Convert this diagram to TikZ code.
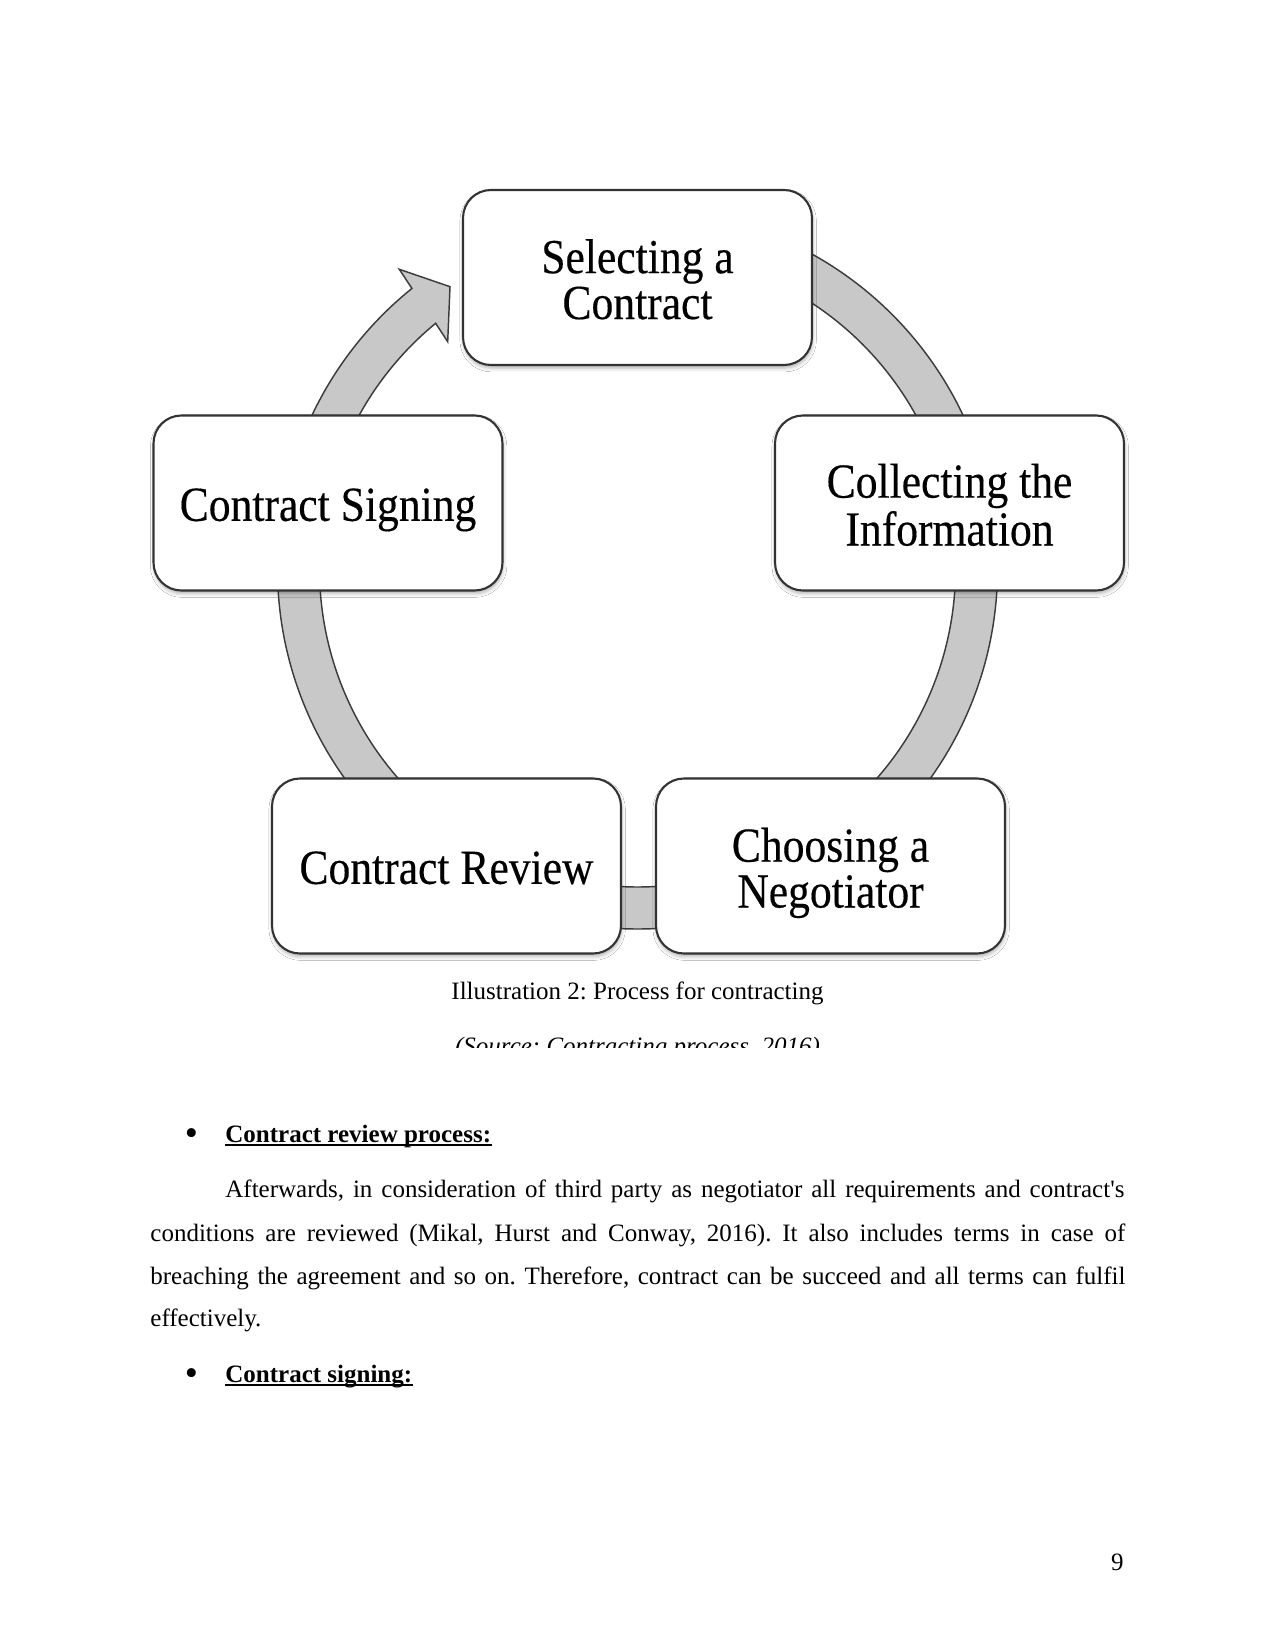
\documentclass[tikz,border=0pt]{standalone}
\usepackage{fontspec}
\setmainfont{Liberation Serif}
\newfontfamily\boxfont[FakeStretch=0.89,FakeBold=0.3]{Liberation Serif}
\usetikzlibrary{calc,shadows.blur}
\definecolor{ringfill}{HTML}{C8C8C8}
\definecolor{ringline}{HTML}{3C3C3C}
\definecolor{boxline}{HTML}{333333}
\newcommand\sq{\XeTeXglyph\XeTeXcharglyph"27\relax}
\newcommand\boxtext[1]{\raisebox{-4pt}[\height][\depth]{\begin{tabular}{@{}c@{}}#1\end{tabular}}}
\frenchspacing
\begin{document}
\begin{tikzpicture}[x=0.48pt,y=-0.48pt,
  stepbox/.style={draw=boxline, line width=1pt, fill=white, rounded corners=13.4pt,
    minimum width=167.5pt, minimum height=84pt, inner sep=0pt,
    font=\boxfont\fontsize{23.5}{21.5}\selectfont,
    blur shadow={shadow xshift=0.3pt, shadow yshift=-1.5pt, shadow blur radius=1.8pt, shadow opacity=30}},
  ring/.style={fill=ringfill, draw=ringline, line width=0.7pt},
  body/.style={font=\fontsize{12}{14}\selectfont, inner sep=0pt},
  bodyit/.style={font=\fontsize{12}{14}\selectfont\itshape, inner sep=0pt},
  bul/.style={font=\fontsize{18}{18}\selectfont, inner sep=0pt},
  uline/.style={line width=0.6pt}]
\fill[white] (0,0) rectangle (1275,1650);
\useasboundingbox (0,0) rectangle (1275,1650);
\coordinate (c) at (637.5,569);
% ring connectors
\filldraw[ring] ($(c)+(-78:360)$) arc[start angle=-78, end angle=-12, radius=360]
  -- ($(c)+(-12:318)$) arc[start angle=-12, end angle=-78, radius=318] -- cycle;
\filldraw[ring] ($(c)+(0:360)$) arc[start angle=0, end angle=48, radius=360]
  -- ($(c)+(48:318)$) arc[start angle=48, end angle=0, radius=318] -- cycle;
\filldraw[ring] ($(c)+(70:360)$) arc[start angle=70, end angle=110, radius=360]
  -- ($(c)+(110:318)$) arc[start angle=110, end angle=70, radius=318] -- cycle;
\filldraw[ring] ($(c)+(-232:360)$) arc[start angle=-232, end angle=-128.8, radius=360]
  -- (399.3,269.3) -- (450,286.7) -- (447.7,341.7) -- ($(c)+(-129.4:318)$)
  arc[start angle=-129.4, end angle=-232, radius=318] -- cycle;
% boxes
\node[stepbox] (sel) at (637.5,277.5) {\boxtext{Selecting a\\Contract}};
\node[stepbox] (col) at (949.5,503) {\boxtext{Collecting the\\Information}};
\node[stepbox] (sig) at (328,503) {\boxtext{Contract Signing}};
\node[stepbox] (rev) at (446.5,866) {\boxtext{Contract Review}};
\node[stepbox] (cho) at (830.5,866) {\boxtext{Choosing a\\Negotiator}};
% caption
\node[body, anchor=base] (cap) at (637.5,999) {Illustration 2: Process for contracting};
\begin{scope}
  \clip (0,1005) rectangle (1275,1047);
  \node[bodyit, anchor=base] (src) at (637.5,1054.5) {(Source: Contracting process, 2016)};
\end{scope}
% body text
\node[bul, anchor=base] (b1) at (191.5,1145) {\textbullet};
\node[body, anchor=base west] (h1) at (225,1142) {\textbf{Contract review process:}};
\draw[uline] ($(h1.base west)+(0,3)$) -- ($(h1.base east)+(0,3)$);
\node[body, anchor=base west] (l1) at (225,1197) {\makebox[431.5pt][s]{Afterwards, in consideration of third party as negotiator all requirements and contract\sq s}};
\node[body, anchor=base west] (l2) at (150,1241) {\makebox[468pt][s]{conditions are reviewed (Mikal, Hurst and Conway, 2016). It also includes terms in case of}};
\node[body, anchor=base west] (l3) at (150,1284.5) {\makebox[468pt][s]{breaching the agreement and so on. Therefore, contract can be succeed and all terms can fulfil}};
\node[body, anchor=base west] (l4) at (150,1326.6) {effectively.};
\node[bul, anchor=base] (b2) at (191.5,1385) {\textbullet};
\node[body, anchor=base west] (h2) at (225,1382) {\textbf{Contract signing:}};
\draw[uline] ($(h2.base west)+(0,3)$) -- ($(h2.base east)+(0,3)$);
\node[body, anchor=base east] (pg) at (1124,1570) {9};
\end{tikzpicture}
\end{document}
